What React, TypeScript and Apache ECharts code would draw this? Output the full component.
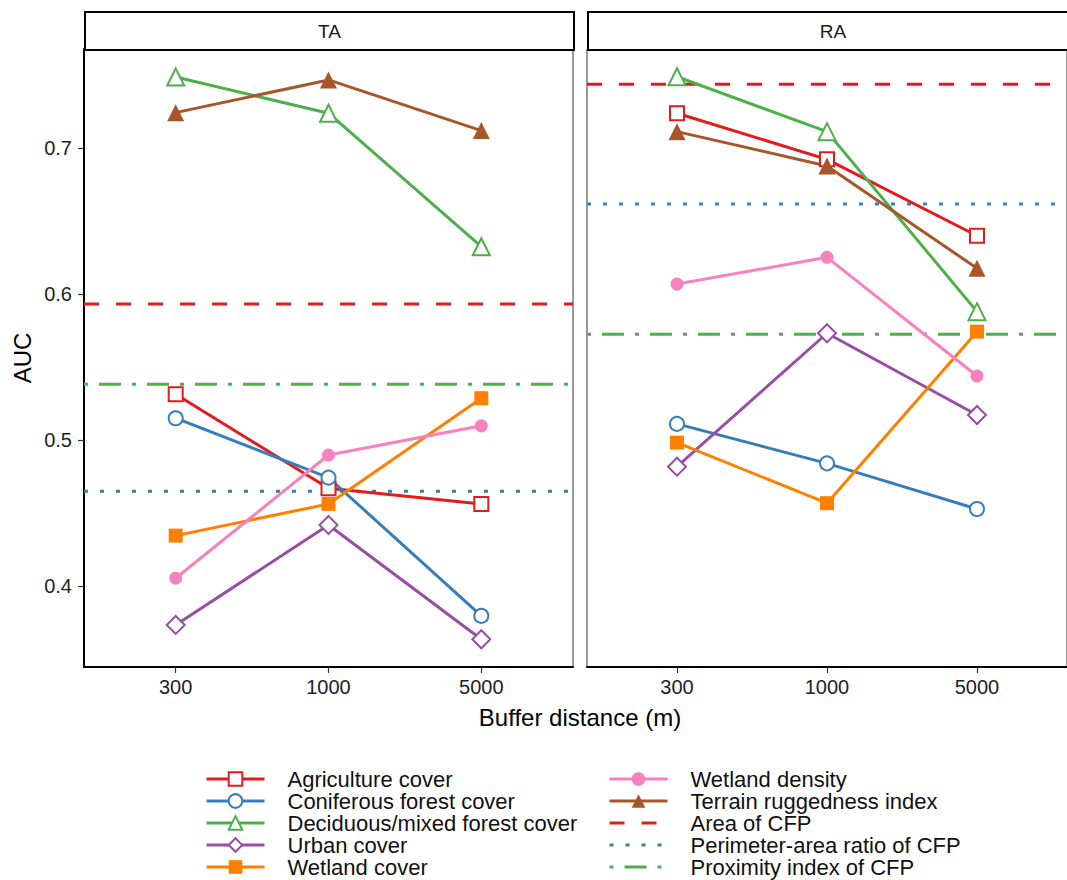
import React, { useEffect, useRef } from 'react';
import * as echarts from 'echarts';

// ---------- data ----------
const buffers = ['300', '1000', '5000'];
const panels = ['TA', 'RA'];
const yTicks = [0.4, 0.5, 0.6, 0.7];
const xMin = 0.4;
const xMax = 3.6;
const yMin = 0.3445;
const yMax = 0.7678;

// values per panel: [TA, RA], each over buffers 300 / 1000 / 5000
const agricultureTA = [0.5313, 0.4669, 0.4562];
const agricultureRA = [0.7238, 0.6922, 0.6399];
const coniferousTA = [0.5149, 0.4742, 0.3795];
const coniferousRA = [0.511, 0.484, 0.4527];
const deciduousTA = [0.7486, 0.7238, 0.6324];
const deciduousRA = [0.7488, 0.7112, 0.5879];
const urbanTA = [0.3733, 0.4418, 0.3635];
const urbanRA = [0.4817, 0.5731, 0.5171];
const wetlandCoverTA = [0.4345, 0.4562, 0.5286];
const wetlandCoverRA = [0.4982, 0.4567, 0.5742];
const wetlandDensityTA = [0.4053, 0.4897, 0.5097];
const wetlandDensityRA = [0.6068, 0.6251, 0.5438];
const terrainTA = [0.7242, 0.7466, 0.7119];
const terrainRA = [0.7112, 0.6877, 0.6176];

// horizontal reference values: [TA, RA]
const areaCFP = [0.5932, 0.7436];
const perimeterCFP = [0.4649, 0.6616];
const proximityCFP = [0.5381, 0.5724];

const FONT = '"Liberation Sans", Arial, sans-serif';

const pointSeries = [
  { name: 'Agriculture cover', color: '#E41A1C', symbol: 'emptyRect', size: 14, values: [agricultureTA, agricultureRA] },
  { name: 'Coniferous forest cover', color: '#377EB8', symbol: 'emptyCircle', size: 14, values: [coniferousTA, coniferousRA] },
  { name: 'Deciduous/mixed forest cover', color: '#4DAF4A', symbol: 'emptyTriangle', size: 17, values: [deciduousTA, deciduousRA] },
  { name: 'Urban cover', color: '#984EA3', symbol: 'emptyDiamond', size: 18, values: [urbanTA, urbanRA] },
  { name: 'Wetland cover', color: '#FF7F00', symbol: 'rect', size: 14, values: [wetlandCoverTA, wetlandCoverRA] },
  { name: 'Wetland density', color: '#F781BF', symbol: 'circle', size: 13, values: [wetlandDensityTA, wetlandDensityRA] },
  { name: 'Terrain ruggedness index', color: '#A65628', symbol: 'triangle', size: 17, values: [terrainTA, terrainRA] },
];

const refLines = [
  { name: 'Area of CFP', color: '#E41A1C', dash: [15, 17], values: areaCFP },
  { name: 'Perimeter-area ratio of CFP', color: '#377EB8', dash: [4, 12], values: perimeterCFP },
  { name: 'Proximity index of CFP', color: '#4DAF4A', dash: [4, 11, 22, 11], values: proximityCFP },
];

export default function App() {
  const ref = useRef<HTMLDivElement>(null);

  useEffect(() => {
    if (!ref.current) return;
    const chart = echarts.init(ref.current, undefined, { renderer: 'svg' });

    const grids = [
      { left: 84, top: 49, width: 489, height: 618 },
      { left: 587, top: 49, width: 490, height: 618 },
    ].map((g) => ({ ...g, show: true, borderColor: '#333', borderWidth: 1, backgroundColor: '#fff', containLabel: false }));

    const xAxes = panels.map((_, gi) => ({
      type: 'value',
      gridIndex: gi,
      min: xMin,
      max: xMax,
      splitLine: { show: false },
      axisLine: { show: true, onZero: false, lineStyle: { color: '#000', width: 2 } },
      axisTick: { show: true, customValues: [1, 2, 3], length: 6, lineStyle: { color: '#333', width: 1.2 } },
      axisLabel: {
        customValues: [1, 2, 3],
        formatter: (v: number) => buffers[Math.round(v) - 1] ?? '',
        fontSize: 20,
        fontFamily: FONT,
        color: '#222',
        margin: 10,
      },
    }));

    const yAxes = panels.map((_, gi) => ({
      type: 'value',
      gridIndex: gi,
      min: yMin,
      max: yMax,
      splitLine: { show: false },
      axisLine: { show: gi === 0, onZero: false, lineStyle: { color: '#000', width: 2 } },
      axisTick: { show: gi === 0, customValues: yTicks, length: 6, lineStyle: { color: '#333', width: 1.2 } },
      axisLabel: {
        show: gi === 0,
        customValues: yTicks,
        formatter: (v: number) => v.toFixed(1),
        fontSize: 20,
        fontFamily: FONT,
        color: '#222',
        margin: 12,
      },
    }));

    const series: any[] = [];
    refLines.forEach((r) => {
      panels.forEach((_, gi) => {
        series.push({
          type: 'line',
          name: r.name,
          xAxisIndex: gi,
          yAxisIndex: gi,
          data: [[xMin, r.values[gi]], [xMax, r.values[gi]]],
          symbol: 'none',
          showSymbol: false,
          silent: true,
          itemStyle: { color: r.color },
          lineStyle: { color: r.color, width: 3, type: r.dash, cap: 'butt' },
          z: 1,
        });
      });
    });
    pointSeries.forEach((s) => {
      const empty = s.symbol.startsWith('empty');
      panels.forEach((_, gi) => {
        series.push({
          type: 'line',
          name: s.name,
          xAxisIndex: gi,
          yAxisIndex: gi,
          data: buffers.map((_, i) => [i + 1, s.values[gi][i]]),
          symbol: s.symbol,
          symbolSize: s.size,
          showSymbol: true,
          itemStyle: empty
            ? { color: s.color, borderColor: s.color, borderWidth: 2.6 }
            : { color: s.color, borderWidth: 0 },
          lineStyle: { color: s.color, width: 3 },
          z: 3,
        });
      });
    });

    const legendCommon = {
      orient: 'vertical',
      top: 768,
      height: 112,
      padding: 0,
      itemWidth: 58,
      itemHeight: 17,
      itemGap: 0,
      selectedMode: false,
      align: 'left',
      lineStyle: { width: 3 },
      textStyle: { fontSize: 22, fontFamily: FONT, color: '#111', lineHeight: 22, padding: [0, 0, 0, 18] },
    };

    const legendData = (names: string[]) =>
      names.map((n) => (refLines.some((r) => r.name === n) ? { name: n, itemStyle: { opacity: 0 } } : { name: n }));

    const option: any = {
      animation: false,
      backgroundColor: '#fff',
      grid: grids,
      xAxis: xAxes,
      yAxis: yAxes,
      series,
      legend: [
        { ...legendCommon, left: 205, data: legendData(pointSeries.slice(0, 5).map((s) => s.name)) },
        {
          ...legendCommon,
          left: 608,
          data: legendData([...pointSeries.slice(5).map((s) => s.name), ...refLines.map((r) => r.name)]),
        },
      ],
      graphic: [
        ...panels.map((p, gi) => {
          const g = grids[gi];
          return {
            type: 'group',
            left: g.left,
            top: 11,
            children: [
              {
                type: 'rect',
                shape: { x: 0, y: 0, width: g.width, height: 38 },
                style: { fill: '#fff', stroke: '#000', lineWidth: 2 },
              },
              {
                type: 'text',
                x: g.width / 2,
                y: 19,
                style: { text: p, fontSize: 19, fontFamily: FONT, fill: '#1a1a1a', textAlign: 'center', textVerticalAlign: 'middle' },
              },
            ],
          };
        }),
        {
          type: 'text',
          x: 22,
          y: 358,
          rotation: Math.PI / 2,
          style: { text: 'AUC', fontSize: 24, fontFamily: FONT, fill: '#000', textAlign: 'center', textVerticalAlign: 'middle' },
        },
        {
          type: 'text',
          x: 580,
          y: 717,
          style: { text: 'Buffer distance (m)', fontSize: 24, fontFamily: FONT, fill: '#000', textAlign: 'center', textVerticalAlign: 'middle' },
        },
      ],
    };

    chart.setOption(option);
    return () => chart.dispose();
  }, []);

  return <div ref={ref} style={{ position: 'fixed', left: 0, top: 0, width: 1067, height: 880, background: '#fff' }} />;
}
